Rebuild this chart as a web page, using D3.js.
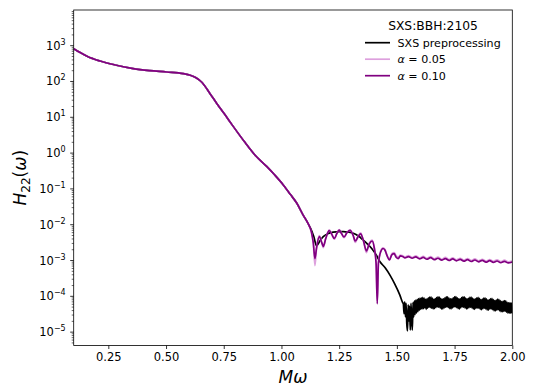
<!DOCTYPE html>
<html>
<head>
<meta charset="utf-8">
<script src="https://cdn.jsdelivr.net/npm/d3@7"></script>
<style>
  html, body { margin: 0; padding: 0; background: #fff; }
  svg { display: block; font-family: "DejaVu Sans", sans-serif; }
</style>
</head>
<body>
<div id="chart"></div>
<script>
// part shared by every curve (they overlap below M omega ~ 1.12)
const commonHead = [
  [0.100, 800], [0.130, 610], [0.160, 480], [0.214, 360], [0.280, 280],
  [0.358, 222], [0.430, 195], [0.503, 178], [0.575, 160], [0.605, 145],
  [0.630, 123], [0.655, 92], [0.690, 45], [0.719, 24], [0.755, 11.5],
  [0.791, 5.4], [0.840, 2.0], [0.885, 0.86], [0.936, 0.41], [0.970, 0.24],
  [1.008, 0.125], [1.040, 0.066], [1.066, 0.039], [1.094, 0.018], [1.115, 0.0105]
];

const sxsTail = [
  [1.130, 0.0068], [1.140, 0.0045], [1.152, 0.0025], [1.165, 0.0033], [1.181, 0.0045],
  [1.200, 0.0054], [1.224, 0.0060], [1.250, 0.0062], [1.268, 0.0062], [1.290, 0.0060],
  [1.311, 0.0056], [1.335, 0.0046], [1.354, 0.0036], [1.375, 0.0027], [1.391, 0.0021],
  [1.410, 0.0014], [1.427, 0.00089], [1.450, 0.00060], [1.470, 0.00038], [1.490, 0.00022],
  [1.513, 1.05e-4], [1.525, 6.5e-5],
  [1.528, 6.0e-5], [1.531, 3.2e-5], [1.534, 6.8e-5], [1.537, 2.6e-5], [1.540, 6.2e-5],
  [1.543, 1.6e-5], [1.546, 1.05e-5], [1.549, 5.6e-5], [1.552, 2.0e-5], [1.555, 5.2e-5],
  [1.558, 1.1e-5], [1.561, 6.2e-5], [1.564, 2.2e-5], [1.567, 1.1e-5], [1.570, 6.6e-5],
  [1.573, 2.6e-5], [1.576, 7.2e-5], [1.579, 3.0e-5], [1.582, 7.6e-5], [1.585, 3.3e-5],
  [1.588, 8.0e-5], [1.591, 3.6e-5], [1.594, 8.4e-5], [1.597, 3.9e-5], [1.600, 8.6e-5],
  [1.603, 4.2e-5], [1.606, 8.8e-5], [1.609, 4.3e-5],
  [1.612, 9.0e-5], [1.615, 4.4e-5], [1.618, 8.6e-5], [1.621, 4.6e-5], [1.624, 8.0e-5],
  [1.627, 4.2e-5], [1.630, 8.3e-5], [1.633, 4.5e-5], [1.636, 8.8e-5], [1.639, 4.8e-5],
  [1.642, 9.2e-5], [1.645, 4.7e-5], [1.648, 9.3e-5], [1.651, 4.5e-5], [1.654, 8.6e-5],
  [1.657, 4.3e-5], [1.660, 8.0e-5], [1.663, 4.4e-5], [1.666, 8.4e-5], [1.669, 4.7e-5],
  [1.672, 8.9e-5], [1.675, 4.9e-5], [1.678, 9.3e-5], [1.681, 4.8e-5], [1.684, 9.2e-5],
  [1.687, 4.6e-5], [1.690, 8.5e-5], [1.693, 4.3e-5], [1.696, 8.1e-5], [1.699, 4.3e-5],
  [1.702, 8.3e-5], [1.705, 4.6e-5], [1.708, 8.8e-5], [1.711, 4.8e-5], [1.714, 9.3e-5],
  [1.717, 4.9e-5], [1.720, 9.4e-5], [1.723, 4.7e-5], [1.726, 8.7e-5], [1.729, 4.4e-5],
  [1.732, 8.2e-5], [1.735, 4.3e-5], [1.738, 8.3e-5], [1.741, 4.6e-5], [1.744, 8.8e-5],
  [1.747, 4.9e-5], [1.750, 9.4e-5], [1.753, 4.9e-5], [1.756, 9.5e-5], [1.759, 4.7e-5],
  [1.762, 8.8e-5], [1.765, 4.4e-5], [1.768, 8.2e-5], [1.771, 4.3e-5], [1.774, 8.3e-5],
  [1.777, 4.6e-5], [1.780, 8.9e-5], [1.783, 4.9e-5], [1.786, 9.4e-5], [1.789, 4.8e-5],
  [1.792, 9.3e-5], [1.795, 4.6e-5], [1.798, 8.6e-5], [1.801, 4.3e-5], [1.804, 8.2e-5],
  [1.807, 4.4e-5], [1.810, 8.5e-5], [1.813, 4.7e-5], [1.816, 9.0e-5], [1.819, 4.8e-5],
  [1.822, 9.2e-5], [1.825, 4.6e-5], [1.828, 8.7e-5], [1.831, 4.3e-5], [1.834, 8.1e-5],
  [1.837, 4.2e-5], [1.840, 8.3e-5], [1.843, 4.5e-5], [1.846, 8.8e-5], [1.849, 4.6e-5],
  [1.852, 9.0e-5], [1.855, 4.5e-5], [1.858, 8.5e-5], [1.861, 4.2e-5], [1.864, 7.9e-5],
  [1.867, 4.1e-5], [1.870, 8.1e-5], [1.873, 4.4e-5], [1.876, 8.6e-5], [1.879, 4.5e-5],
  [1.882, 8.8e-5], [1.885, 4.3e-5], [1.888, 8.2e-5], [1.891, 4.0e-5], [1.894, 7.6e-5],
  [1.897, 4.0e-5], [1.900, 7.9e-5], [1.903, 4.3e-5], [1.906, 8.4e-5], [1.909, 4.3e-5],
  [1.912, 8.5e-5], [1.915, 4.1e-5], [1.918, 7.8e-5], [1.921, 3.8e-5], [1.924, 7.3e-5],
  [1.927, 3.8e-5], [1.930, 7.6e-5], [1.933, 4.0e-5], [1.936, 8.1e-5], [1.939, 4.1e-5],
  [1.942, 8.0e-5], [1.945, 3.8e-5], [1.948, 7.4e-5], [1.951, 3.6e-5], [1.954, 6.9e-5],
  [1.957, 3.6e-5], [1.960, 7.1e-5], [1.963, 3.7e-5], [1.966, 7.4e-5], [1.969, 3.7e-5],
  [1.972, 7.2e-5], [1.975, 3.5e-5], [1.978, 6.6e-5], [1.981, 3.3e-5], [1.984, 6.4e-5],
  [1.987, 3.3e-5], [1.990, 6.5e-5], [1.993, 3.3e-5], [1.996, 6.3e-5], [2.000, 3.2e-5]
];

const alpha05Tail = [
  [1.128, 0.0064], [1.138, 0.0028], [1.145, 0.0007], [1.152, 0.0021], [1.164, 0.0048],
  [1.175, 0.0030], [1.181, 0.0022], [1.192, 0.0041], [1.207, 0.0070], [1.218, 0.0052],
  [1.229, 0.0038], [1.240, 0.0056], [1.250, 0.0071], [1.260, 0.0055], [1.271, 0.0042],
  [1.284, 0.0059], [1.297, 0.0070], [1.310, 0.0049], [1.320, 0.0031], [1.332, 0.0046],
  [1.343, 0.0057], [1.355, 0.0034], [1.368, 0.0016], [1.380, 0.0029], [1.393, 0.0036],
  [1.402, 0.0022], [1.410, 0.0008], [1.415, 0.00007], [1.420, 0.0009], [1.430, 0.0018],
  [1.440, 0.0022], [1.448, 0.0020], [1.458, 0.0013], [1.468, 0.0010], [1.478, 0.0015],
  [1.488, 0.0016], [1.497, 0.0013], [1.506, 0.0012], [1.515, 0.00138], [1.525, 0.00132],
  [1.535, 1.22e-3], [1.550, 1.33e-3], [1.566, 1.18e-3], [1.582, 1.30e-3], [1.598, 1.14e-3],
  [1.614, 1.26e-3], [1.630, 1.11e-3], [1.646, 1.24e-3], [1.662, 1.08e-3], [1.678, 1.20e-3],
  [1.694, 1.05e-3], [1.710, 1.18e-3], [1.726, 1.03e-3], [1.742, 1.15e-3], [1.758, 1.01e-3],
  [1.774, 1.12e-3], [1.790, 0.99e-3], [1.806, 1.10e-3], [1.822, 0.97e-3], [1.838, 1.08e-3],
  [1.854, 0.95e-3], [1.870, 1.05e-3], [1.886, 0.93e-3], [1.902, 1.03e-3], [1.918, 0.92e-3],
  [1.934, 1.01e-3], [1.950, 0.90e-3], [1.966, 0.99e-3], [1.982, 0.89e-3], [2.000, 0.94e-3]
];

const alpha10Tail = [
  [1.130, 0.0060], [1.138, 0.0030], [1.145, 0.0011], [1.152, 0.0022], [1.164, 0.0045],
  [1.175, 0.0030], [1.181, 0.0024], [1.192, 0.0040], [1.207, 0.0066], [1.218, 0.0052],
  [1.229, 0.0040], [1.240, 0.0055], [1.250, 0.0068], [1.260, 0.0055], [1.271, 0.0044],
  [1.284, 0.0058], [1.297, 0.0067], [1.310, 0.0050], [1.320, 0.0034], [1.332, 0.0045],
  [1.343, 0.0054], [1.355, 0.0035], [1.368, 0.0018], [1.380, 0.0028], [1.393, 0.0034],
  [1.402, 0.0022], [1.410, 0.0008], [1.415, 0.00006], [1.420, 0.0008], [1.430, 0.0017],
  [1.440, 0.0021], [1.448, 0.0019], [1.458, 0.0013], [1.468, 0.0010], [1.478, 0.0014],
  [1.488, 0.0015], [1.497, 0.0012], [1.506, 0.0011], [1.515, 0.0013], [1.525, 0.00125],
  [1.535, 1.15e-3], [1.550, 1.25e-3], [1.566, 1.12e-3], [1.582, 1.22e-3], [1.598, 1.08e-3],
  [1.614, 1.18e-3], [1.630, 1.05e-3], [1.646, 1.16e-3], [1.662, 1.02e-3], [1.678, 1.12e-3],
  [1.694, 0.99e-3], [1.710, 1.10e-3], [1.726, 0.97e-3], [1.742, 1.07e-3], [1.758, 0.95e-3],
  [1.774, 1.04e-3], [1.790, 0.93e-3], [1.806, 1.02e-3], [1.822, 0.91e-3], [1.838, 1.00e-3],
  [1.854, 0.89e-3], [1.870, 0.98e-3], [1.886, 0.87e-3], [1.902, 0.96e-3], [1.918, 0.86e-3],
  [1.934, 0.94e-3], [1.950, 0.84e-3], [1.966, 0.92e-3], [1.982, 0.83e-3], [2.000, 0.88e-3]
];

const xTicks = [0.25, 0.50, 0.75, 1.00, 1.25, 1.50, 1.75, 2.00];
const yExponents = [-5, -4, -3, -2, -1, 0, 1, 2, 3];
const legendTitle = "SXS:BBH:2105";

const series = [
  { label: "SXS preprocessing", color: "#000000", data: commonHead.concat(sxsTail) },
  { label: "0.05", color: "#dda0dd", data: commonHead.concat(alpha05Tail), math: true },
  { label: "0.10", color: "#800080", data: commonHead.concat(alpha10Tail), math: true }
];

const width = 534, height = 386;
const margin = { top: 10, right: 21.7, bottom: 40.5, left: 73.7 };

const x = d3.scaleLinear()
  .domain([0.1, 2.0])
  .range([margin.left, width - margin.right]);

const y = d3.scaleLog()
  .domain([4.1e-6, 9.6e3])
  .range([height - margin.bottom, margin.top]);

const svg = d3.select('#chart')
  .append('svg')
  .attr('width', width)
  .attr('height', height);

svg.append('defs').append('clipPath').attr('id', 'clip')
  .append('rect')
  .attr('x', margin.left).attr('y', margin.top)
  .attr('width', width - margin.left - margin.right)
  .attr('height', height - margin.top - margin.bottom);

const line = d3.line()
  .x(d => x(d[0]))
  .y(d => y(d[1]))
  .curve(d3.curveMonotoneX);

const plot = svg.append('g').attr('clip-path', 'url(#clip)');
series.forEach(s => {
  plot.append('path')
    .datum(s.data)
    .attr('fill', 'none')
    .attr('stroke', s.color)
    .attr('stroke-width', 1.7)
    .attr('stroke-linejoin', 'round')
    .attr('d', line);
});

// x axis
const xAxis = svg.append('g')
  .attr('transform', `translate(0,${height - margin.bottom})`)
  .call(d3.axisBottom(x).tickValues(xTicks).tickFormat(d3.format('.2f')).tickSize(3.5).tickPadding(3.5).tickSizeOuter(0));
xAxis.select('.domain').remove();
xAxis.selectAll('line').attr('stroke', '#000').attr('stroke-width', 0.8);
xAxis.selectAll('text').attr('fill', '#000').style('font-size', '11.5px').style('font-family', '"DejaVu Sans", sans-serif');

// y axis, minor then major ticks
const minors = [];
for (let e = -6; e <= 3; e++) {
  for (let m = 2; m <= 9; m++) {
    const v = m * Math.pow(10, e);
    if (v >= y.domain()[0] && v <= y.domain()[1]) minors.push(v);
  }
}
const yMinor = svg.append('g')
  .attr('transform', `translate(${margin.left},0)`)
  .call(d3.axisLeft(y).tickValues(minors).tickFormat('').tickSize(2).tickSizeOuter(0));
yMinor.select('.domain').remove();
yMinor.selectAll('line').attr('stroke', '#000').attr('stroke-width', 0.6);

const majors = yExponents.map(e => Math.pow(10, e));
const yAxis = svg.append('g')
  .attr('transform', `translate(${margin.left},0)`)
  .call(d3.axisLeft(y).tickValues(majors).tickFormat('').tickSize(3.5).tickSizeOuter(0));
yAxis.select('.domain').remove();
yAxis.selectAll('line').attr('stroke', '#000').attr('stroke-width', 0.8);

yExponents.forEach(e => {
  const t = svg.append('text')
    .attr('x', margin.left - 8)
    .attr('y', y(Math.pow(10, e)) + 4.5)
    .attr('text-anchor', 'end')
    .style('font-size', '11.5px');
  t.append('tspan').text('10');
  t.append('tspan')
    .attr('dy', -5)
    .style('font-size', '8px')
    .text(e < 0 ? '\u2212' + Math.abs(e) : String(e));
});

// frame
svg.append('rect')
  .attr('x', margin.left).attr('y', margin.top)
  .attr('width', width - margin.left - margin.right)
  .attr('height', height - margin.top - margin.bottom)
  .attr('fill', 'none')
  .attr('stroke', '#000')
  .attr('stroke-width', 0.8);

// axis labels
const xl = svg.append('text')
  .attr('x', (margin.left + width - margin.right) / 2)
  .attr('y', 383)
  .attr('text-anchor', 'middle')
  .style('font-size', '17px')
  .style('font-style', 'italic');
xl.append('tspan').text('M\u03c9');

const yl = svg.append('text')
  .attr('transform', `translate(26,${(margin.top + height - margin.bottom) / 2}) rotate(-90)`)
  .attr('text-anchor', 'middle')
  .style('font-size', '17px');
yl.append('tspan').style('font-style', 'italic').text('H');
yl.append('tspan').attr('dy', 3.5).style('font-size', '12px').text('22');
yl.append('tspan').attr('dy', -3.5).text('(');
yl.append('tspan').style('font-style', 'italic').text('\u03c9');
yl.append('tspan').text(')');

// legend
const lg = svg.append('g');
lg.append('text')
  .attr('x', 433).attr('y', 29.5)
  .attr('text-anchor', 'middle')
  .style('font-size', '12.3px')
  .text(legendTitle);

series.forEach((s, i) => {
  const ly = 42.7 + i * 16.5;
  lg.append('line')
    .attr('x1', 365).attr('x2', 390)
    .attr('y1', ly).attr('y2', ly)
    .attr('stroke', s.color)
    .attr('stroke-width', 1.7);
  const t = lg.append('text')
    .attr('x', 397.5).attr('y', ly + 4)
    .style('font-size', '11.1px');
  if (s.math) {
    t.append('tspan').style('font-style', 'italic').text('\u03b1');
    t.append('tspan').text(' = ' + s.label);
  } else {
    t.text(s.label);
  }
});
</script>
</body>
</html>
